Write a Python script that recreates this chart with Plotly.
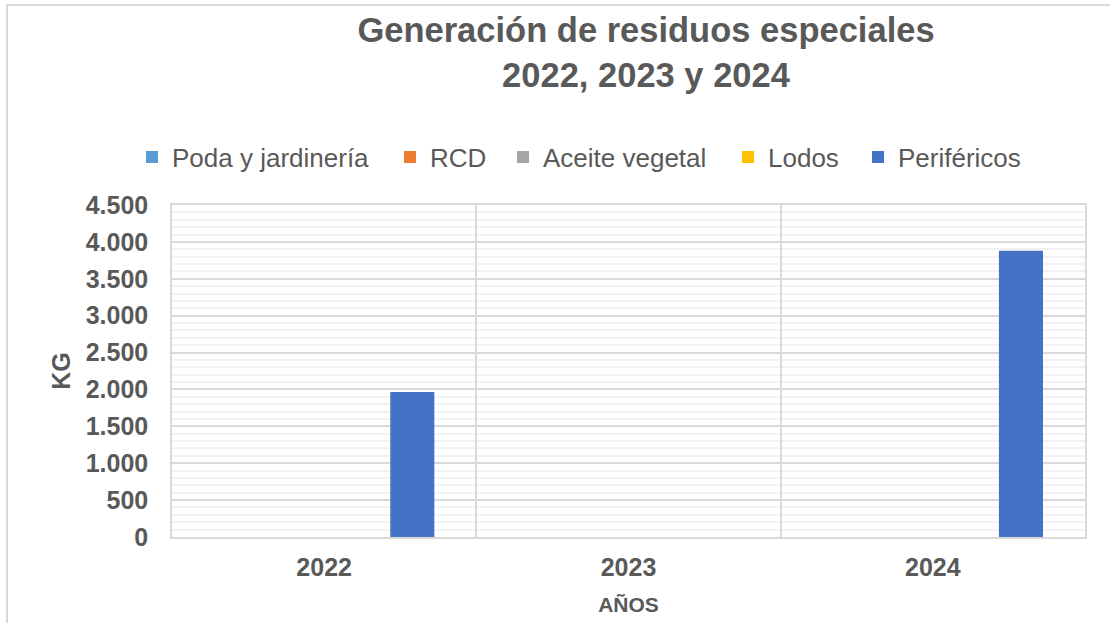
import plotly.graph_objects as go

# Categories and series (kg per year)
years = ["2022", "2023", "2024"]
series_names = ["Poda y jardinería", "RCD", "Aceite vegetal", "Lodos", "Periféricos"]
poda = [0, 0, 0]
rcd = [0, 0, 0]
aceite = [0, 0, 0]
lodos = [0, 0, 0]
perifericos = [1965, 0, 3880]
y_ticks = [0, 500, 1000, 1500, 2000, 2500, 3000, 3500, 4000, 4500]

series_values = [poda, rcd, aceite, lodos, perifericos]
colors = ["#5B9BD5", "#ED7D31", "#A5A5A5", "#FFC000", "#4472C4"]

W, H = 1110, 623
L, R, T, B = 172, 25, 205, 86
FONT = "Liberation Sans, Arial, sans-serif"
TXT = "#595959"

# left edge (px) of each legend entry, one legend box per series
legend_left = [132, 390, 503, 728, 858]

fig = go.Figure()
legend_ids = ["legend"] + [f"legend{i}" for i in range(2, len(series_names) + 1)]
for name, vals, col, lid in zip(series_names, series_values, colors, legend_ids):
    fig.add_trace(go.Bar(
        x=years, y=vals, name=name, legend=lid, showlegend=True,
        marker=dict(color=col, line=dict(width=0)),
    ))

pw = W - L - R
ph = H - T - B


def px_x(p):
    return (p - L) / pw


def px_y(p):
    return 1 - (p - T) / ph


legend_style = dict(
    orientation="h", xanchor="left", xref="container",
    y=1 - 157 / H, yanchor="middle", yref="container",
    font=dict(size=26, color=TXT, family=FONT),
    itemwidth=30, bgcolor="rgba(0,0,0,0)", borderwidth=0,
)
legend_layout = {}
for lid, lx in zip(legend_ids, legend_left):
    legend_layout[lid] = dict(legend_style, x=lx / W)

fig.update_layout(
    width=W, height=H,
    showlegend=True,
    margin=dict(l=L, r=R, t=T, b=B, pad=0, autoexpand=False),
    paper_bgcolor="white", plot_bgcolor="white",
    separators=",.",
    barmode="group", bargap=0.276, bargroupgap=0,
    font=dict(family=FONT, color=TXT),
    title=dict(
        text="<b>Generación de residuos especiales<br>2022, 2023 y 2024</b>",
        x=646 / W, xanchor="center", xref="container",
        y=1 - 42 / H, yanchor="middle", yref="container",
        font=dict(size=34.5, color=TXT, family=FONT),
    ),
    xaxis=dict(
        type="category", automargin=False,
        tickson="boundaries",
        showgrid=True, gridcolor="#D9D9D9", gridwidth=1.5,
        showline=True, linecolor="#D9D9D9", linewidth=1.5, mirror=True,
        ticks="", ticklabelstandoff=7,
        tickfont=dict(size=25, color=TXT, family=FONT, weight="bold"),
        title=dict(text="<b>AÑOS</b>", font=dict(size=21, color=TXT, family=FONT), standoff=18),
    ),
    yaxis=dict(
        range=[0, 4500], automargin=False,
        tickvals=y_ticks,
        tickformat=",d",
        showgrid=True, gridcolor="#D9D9D9", gridwidth=1.5,
        minor=dict(dtick=100, showgrid=True, gridcolor="#F2F2F2", gridwidth=1.5),
        showline=True, linecolor="#D9D9D9", linewidth=1.5, mirror=True,
        zeroline=False,
        ticks="", ticklabelstandoff=17,
        tickfont=dict(size=25, color=TXT, family=FONT, weight="bold"),
        title=dict(text="<b>KG</b>", font=dict(size=25, color=TXT, family=FONT), standoff=8),
    ),
    shapes=[
        # outer chart frame (top and left edges)
        dict(type="line", xref="paper", yref="paper",
             x0=px_x(6), x1=px_x(W + 5), y0=px_y(5), y1=px_y(5),
             line=dict(color="#D9D9D9", width=2)),
        dict(type="line", xref="paper", yref="paper",
             x0=px_x(7), x1=px_x(7), y0=px_y(5), y1=px_y(H + 5),
             line=dict(color="#D9D9D9", width=2)),
    ],
    **legend_layout,
)

fig.write_html("out.html")
